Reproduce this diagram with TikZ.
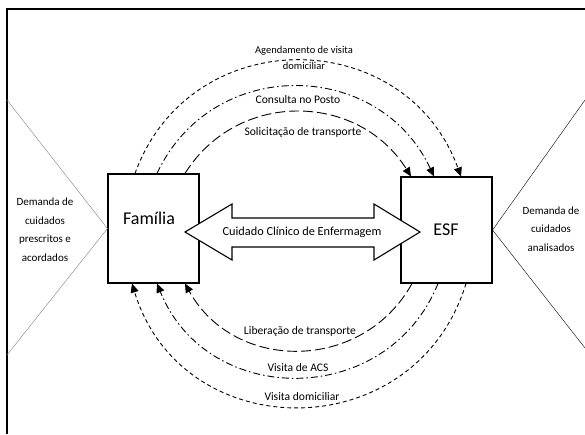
\documentclass[tikz,border=0pt]{standalone}
\usepackage{fontspec}
\setmainfont{Carlito}
\usetikzlibrary{arrows.meta}

\tikzset{
  caixa/.style={draw, line width=1.1pt, minimum width=91pt, minimum height=109pt, inner sep=0pt},
  rotulo/.style={font=\fontsize{11.6}{16}\selectfont, align=center, inner sep=0pt},
  demanda/.style={font=\fontsize{11}{18.5}\selectfont, align=center, inner sep=0pt},
  grande/.style={font=\fontsize{18}{20}\selectfont, inner sep=0pt},
  curto/.style={dash pattern=on 4pt off 3pt},
  traco/.style={dash pattern=on 7pt off 3pt on 1.5pt off 3pt},
  longo/.style={dash pattern=on 10pt off 4pt},
  seta/.style={-{Triangle[length=9pt,width=8pt]}, line width=0.9pt},
}

\begin{document}
\begin{tikzpicture}[x=1pt,y=-1pt]
      \useasboundingbox (0,0) rectangle (585,434);
      \draw [line width=1.4pt] (7,434) -- (7,9) -- (585,9);
      \node[caixa] (fam) at (153.5,228.5) {};
      \node[caixa, minimum height=106pt] (esf) at (446.5,230) {};
      \draw [gray] (7,100) -- (fam.west) -- (7,355);
      \draw (585,100) -- (esf.east) -- (585,348);
      \node[grande] (famtxt) at (149,218) {Família};
      \node[grande] (esftxt) at (446,230) {ESF};
      \node[demanda] (demfam) at (45,229.5) {Demanda de\\cuidados\\prescritos e\\acordados};
      \node[demanda] (demesf) at (551,229) {Demanda de\\cuidados\\analisados};
      % arcos de cima: Familia -> ESF
      \draw [seta,curto] ([xshift=-18.5pt]fam.north) to[out=70,in=110,looseness=1.27] ([xshift=14.5pt]esf.north);
      \draw [seta,traco] ([xshift=3.5pt]fam.north) to[out=65,in=115,looseness=1.2] ([xshift=-12.5pt]esf.north);
      \draw [seta,longo] ([xshift=31.5pt]fam.north) to[out=58,in=122,looseness=1.12] ([xshift=-35.5pt]esf.north);
      % arcos de baixo: ESF -> Familia
      \draw [seta,curto] ([xshift=19.5pt]esf.south) to[out=-107,in=-73,looseness=1.32] ([xshift=-21.5pt]fam.south);
      \draw [seta,traco] ([xshift=-8.5pt]esf.south) to[out=-112,in=-68,looseness=1.23] ([xshift=3.5pt]fam.south);
      \draw [seta,longo] ([xshift=-34.5pt]esf.south) to[out=-119,in=-61,looseness=1.15] ([xshift=31.5pt]fam.south);
      \node[rotulo, font=\fontsize{10.5}{16}\selectfont] (agend) at (304,58) {Agendamento de visita\\domiciliar};
      \node[rotulo] (consulta) at (298,100) {Consulta no Posto};
      \node[rotulo] (solic) at (303,132) {Solicitação de transporte};
      \node[rotulo] (liber) at (300,331) {Liberação de transporte};
      \node[rotulo] (acs) at (298,368) {Visita de ACS};
      \node[rotulo] (visdom) at (302,397) {Visita domiciliar};
      % seta dupla
      \draw [fill=white, line width=1.1pt] (185,232) -- (232,204) -- (232,218) -- (374,218) -- (374,204) -- (420,232)
            -- (374,260) -- (374,247) -- (232,247) -- (232,260) -- cycle;
      \node[rotulo, font=\fontsize{12.3}{14}\selectfont] (cuidado) at (302,232) {Cuidado Clínico de Enfermagem};
    \end{tikzpicture}
\end{document}
